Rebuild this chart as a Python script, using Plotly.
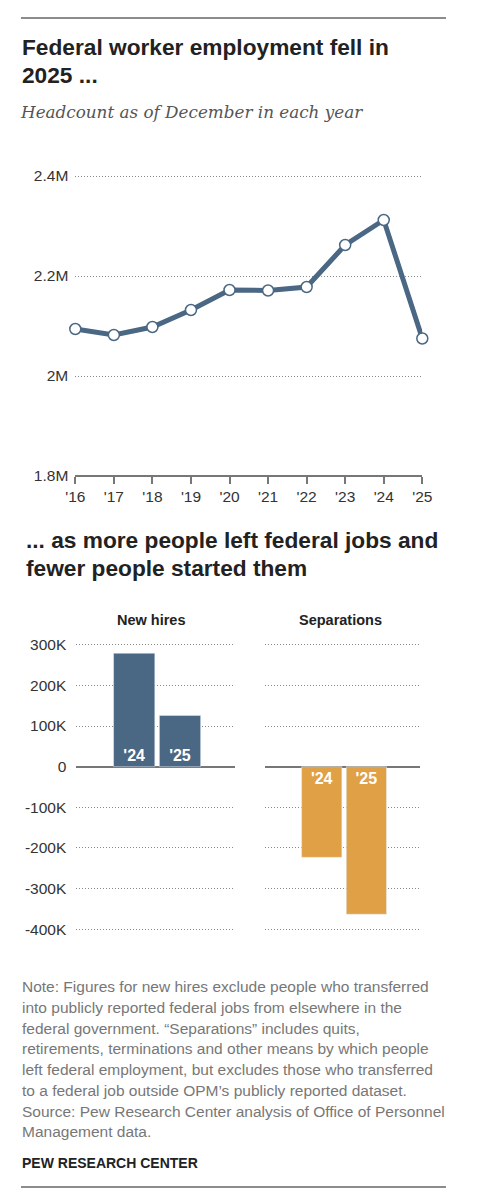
import plotly.graph_objects as go

# headcount (millions), December of each year
years = ["'16", "'17", "'18", "'19", "'20", "'21", "'22", "'23", "'24", "'25"]
headcount = [2.094, 2.082, 2.098, 2.132, 2.172, 2.171, 2.178, 2.262, 2.312, 2.075]
head_ticks = [1.8, 2.0, 2.2, 2.4]
head_ticktext = ["1.8M", "2M", "2.2M", "2.4M"]

bar_years = ["'24", "'25"]
new_hires = [279000, 126000]
separations = [-223000, -363000]
bar_ticks = [-400000, -300000, -200000, -100000, 0, 100000, 200000, 300000]
bar_ticktext = ["-400K", "-300K", "-200K", "-100K", "0", "100K", "200K", "300K"]

note_lines = [
    "Note: Figures for new hires exclude people who transferred",
    "into publicly reported federal jobs from elsewhere in the",
    "federal government. \u201cSeparations\u201d includes quits,",
    "retirements, terminations and other means by which people",
    "left federal employment, but excludes those who transferred",
    "to a federal job outside OPM\u2019s publicly reported dataset.",
    "Source: Pew Research Center analysis of Office of Personnel",
    "Management data.",
]

W, H = 484, 1200
BLUE = "#4a6783"
ORANGE = "#e0a045"
SANS = "Liberation Sans, Arial, sans-serif"


def px(x):
    return x / W


def py(y):
    return 1 - y / H


fig = go.Figure()

fig.add_trace(go.Scatter(
    x=list(range(len(years))), y=headcount, mode="lines+markers",
    line=dict(color=BLUE, width=5),
    marker=dict(size=11, color="white", line=dict(color=BLUE, width=1.5)),
    cliponaxis=False, hoverinfo="skip", xaxis="x", yaxis="y",
))

barfont = dict(color="white", size=16, family=SANS, weight="bold")
fig.add_trace(go.Bar(
    x=bar_years, y=new_hires, marker_color=BLUE, width=0.9,
    text=bar_years, textposition="inside", insidetextanchor="start",
    textfont=barfont, xaxis="x2", yaxis="y2",
))
fig.add_trace(go.Bar(
    x=bar_years, y=separations, marker_color=ORANGE, width=0.9,
    text=bar_years, textposition="inside", insidetextanchor="start",
    textfont=barfont, xaxis="x3", yaxis="y3",
))

grid = dict(showgrid=True, gridcolor="#8a8a8a", gridwidth=1, griddash="1px,2px", automargin=False)
tickfont = dict(family=SANS, size=15.5, color="#333")

# ranges padded a little so the outer gridlines are still drawn
fig.update_layout(
    width=W, height=H, margin=dict(l=0, r=0, t=0, b=0, pad=0, autoexpand=False),
    paper_bgcolor="white", plot_bgcolor="white", showlegend=False,
    font=dict(family=SANS),
    xaxis=dict(domain=[px(75.3), px(422.3)], range=[0, 9],
               anchor="free", position=py(476),
               tickvals=list(range(len(years))), ticktext=years,
               showline=True, linecolor="#777", linewidth=1.5,
               ticks="outside", ticklen=7, tickcolor="#777", tickwidth=1.5,
               showgrid=False, zeroline=False, tickfont=tickfont, automargin=False),
    yaxis=dict(domain=[py(478.5), py(173.5)], range=[1.795, 2.405],
               tickvals=head_ticks, ticktext=head_ticktext, zeroline=False,
               ticklabelstandoff=6, tickfont=tickfont, **grid),
    xaxis2=dict(domain=[px(76), px(235)], range=[-1.27, 2.2], type="category",
                showticklabels=False, showgrid=False, zeroline=False, automargin=False),
    yaxis2=dict(domain=[py(931.33), py(642.67)], range=[-405000, 305000],
                tickvals=bar_ticks, ticktext=bar_ticktext,
                zeroline=True, zerolinecolor="#777", zerolinewidth=1.5,
                ticklabelstandoff=8, tickfont=tickfont, **grid),
    xaxis3=dict(domain=[px(265), px(420)], range=[-1.27, 2.2], type="category",
                showticklabels=False, showgrid=False, zeroline=False, automargin=False),
    yaxis3=dict(domain=[py(931.33), py(642.67)], range=[-405000, 305000],
                tickvals=bar_ticks, showticklabels=False,
                zeroline=True, zerolinecolor="#777", zerolinewidth=1.5, **grid),
)

ann = []


def text(x, y, s, size, color="#222", bold=False, italic=False, family=SANS, xanchor="left"):
    ann.append(dict(
        x=px(x), y=py(y), xref="paper", yref="paper", xanchor=xanchor, yanchor="middle",
        text=s, showarrow=False,
        font=dict(family=family, size=size, color=color,
                  weight="bold" if bold else "normal",
                  style="italic" if italic else "normal"),
    ))


text(20, 46.7, "Federal worker employment fell in", 22.7, bold=True)
text(20, 75, "2025 ...", 22.7, bold=True)
text(18, 112, "Headcount as of December in each year", 16.8, color="#555",
     italic=True, family="DejaVu Serif, Georgia, serif")
text(24, 540, "... as more people left federal jobs and", 22.7, bold=True)
text(24, 568.3, "fewer people started them", 22.7, bold=True)
text(151.7, 620, "New hires", 14.5, bold=True, xanchor="center")
text(340.7, 620, "Separations", 14.5, bold=True, xanchor="center")
for i, line in enumerate(note_lines):
    text(20, 986.7 + 20.75 * i, line, 15.5, color="#777")
text(20, 1162.7, "PEW RESEARCH CENTER", 14, bold=True)

fig.update_layout(
    annotations=ann,
    shapes=[
        dict(type="line", xref="paper", yref="paper", x0=px(21), x1=px(446),
             y0=py(18), y1=py(18), line=dict(color="#666", width=1.5)),
        dict(type="line", xref="paper", yref="paper", x0=px(21), x1=px(446),
             y0=py(1187), y1=py(1187), line=dict(color="#666", width=1.5)),
    ],
)

# drop the browser's default body margin so the figure sits at the page corner
fig.write_html("out.html", config={"displayModeBar": False},
               post_script="document.body.style.margin = '0px';")
